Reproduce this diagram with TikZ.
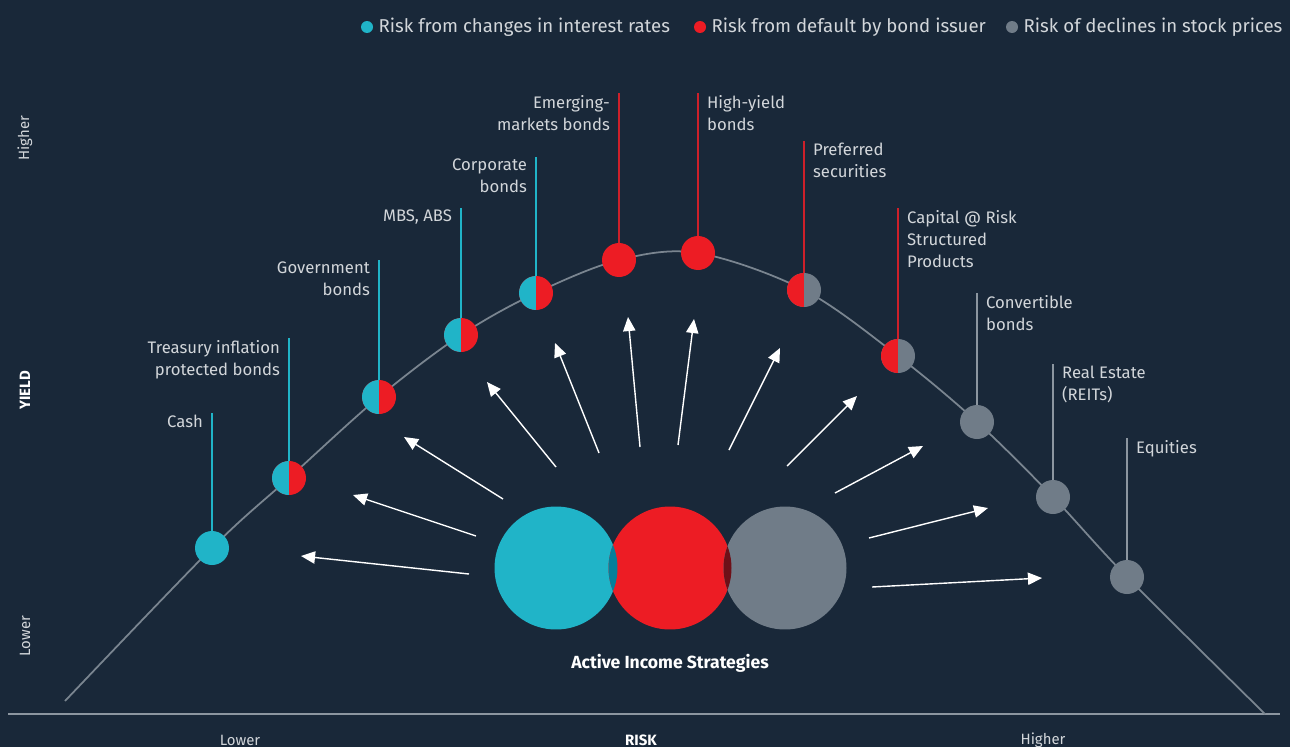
\documentclass[tikz,border=0pt]{standalone}
\usepackage{fontspec}
\setmainfont{Fira Sans}
\usetikzlibrary{arrows.meta, positioning}
\definecolor{navy}{RGB}{25,40,57}
\definecolor{rcyan}{RGB}{32,180,200}
\definecolor{rred}{RGB}{237,28,36}
\definecolor{rgray}{RGB}{112,124,136}
\definecolor{curvegray}{RGB}{122,133,144}
\definecolor{txt}{RGB}{210,214,218}
\definecolor{tealdk}{RGB}{5,127,154}
\definecolor{reddk}{RGB}{110,16,24}
\definecolor{redline}{RGB}{205,32,42}
\definecolor{grayline}{RGB}{140,150,160}
\tikzset{
  dot/.style={circle, fill=#1, minimum size=0.68cm, inner sep=0pt},
  hdot/.style 2 args={circle, fill=#2, minimum size=0.68cm, inner sep=0pt,
    path picture={\fill[#1] (path picture bounding box.north west) rectangle (path picture bounding box.south);}},
  lead/.style={draw=#1, line width=1pt},
  lbl/.style={text=txt, font=\fontsize{9.5}{12.5}\selectfont, inner sep=0pt},
  lblr/.style={lbl, align=right, anchor=north east, xshift=-5pt, yshift=-1pt},
  lbll/.style={lbl, align=left, anchor=north west, xshift=5pt, yshift=-1pt},
  big/.style={circle, fill=#1, minimum size=2.46cm, inner sep=0pt},
  ray/.style={-{Triangle[length=8pt,width=7pt]}, white, line width=0.8pt},
  keydot/.style={circle, fill=#1, minimum size=0.24cm, inner sep=0pt},
  legtext/.style={text=txt, font=\fontsize{10.6}{13}\selectfont, inner sep=0pt, right=0.1cm of #1},
  axlbl/.style={text=txt, font=\fontsize{8.5}{10}\selectfont, inner sep=0pt},
  axbold/.style={text=white, font=\fontsize{8.5}{10}\selectfont\bfseries, inner sep=0pt},
}
\begin{document}
\begin{tikzpicture}[x=0.02cm, y=-0.02cm]
\fill[navy] (0,0) rectangle (1290,747);
\useasboundingbox (0,0) rectangle (1290,747);
% legend
\node[keydot=rcyan] (k1) at (367,27) {};
\node[legtext=k1] (g1) {Risk from changes in interest rates};
\node[keydot=rred] (k2) at (700,27) {};
\node[legtext=k2] (g2) {Risk from default by bond issuer};
\node[keydot=rgray] (k3) at (1012,27) {};
\node[legtext=k3] (g3) {Risk of declines in stock prices};
% axes
\coordinate (ax0) at (8,714);
\coordinate (ax1) at (1280,714);
\draw[grayline, line width=1pt] (ax0) -- (ax1);
\node[axlbl, rotate=90] (yhi) at (25,138) {Higher};
\node[axbold, rotate=90] (ylab) at (25,390) {YIELD};
\node[axlbl, rotate=90] (ylo) at (25,636) {Lower};
\node[axlbl] (xlo) at (240,740) {Lower};
\node[axbold] (xlab) at (641,740) {RISK};
\node[axlbl] (xhi) at (1043,740) {Higher};
% curve
\foreach \n/\px/\py in {0/65/701, 1/212/548, 2/289/478, 3/379/397, 4/461/335, 5/536/293, 6/619/260,
  7/698/253, 8/804/290, 9/898/356, 10/977/422, 11/1053/497, 12/1127/577, 13/1265/714}
  \coordinate (p\n) at (\px,\py);
\draw[curvegray, line width=1pt] plot[smooth, tension=0.55] coordinates {(p0) (p1) (p2) (p3) (p4) (p5) (p6) (p7) (p8) (p9) (p10) (p11) (p12) (p13)};
% leaders
\foreach \n/\top/\c in {1/413/rcyan, 2/338/rcyan, 3/260/rcyan, 4/208/rcyan, 5/157/rcyan, 6/93/redline,
  7/93/redline, 8/141/redline, 9/208/redline, 10/293/grayline, 11/364/grayline, 12/438/grayline}{
  \coordinate (t\n) at (p\n |- 0,\top);
  \draw[lead=\c] (p\n) -- (t\n);
}
% markers
\node[dot=rcyan] (m1) at (p1) {};
\node[hdot={rcyan}{rred}] (m2) at (p2) {};
\node[hdot={rcyan}{rred}] (m3) at (p3) {};
\node[hdot={rcyan}{rred}] (m4) at (p4) {};
\node[hdot={rcyan}{rred}] (m5) at (p5) {};
\node[dot=rred] (m6) at (p6) {};
\node[dot=rred] (m7) at (p7) {};
\node[hdot={rred}{rgray}] (m8) at (p8) {};
\node[hdot={rred}{rgray}] (m9) at (p9) {};
\node[dot=rgray] (m10) at (p10) {};
\node[dot=rgray] (m11) at (p11) {};
\node[dot=rgray] (m12) at (p12) {};
% labels
\node[lblr] (n1) at (t1) {Cash};
\node[lblr] (n2) at (t2) {Treasury inflation\\protected bonds};
\node[lblr] (n3) at (t3) {Government\\bonds};
\node[lblr] (n4) at (t4) {MBS, ABS};
\node[lblr] (n5) at (t5) {Corporate\\bonds};
\node[lblr] (n6) at (t6) {Emerging-\\markets bonds};
\node[lbll] (n7) at (t7) {High-yield\\bonds};
\node[lbll] (n8) at (t8) {Preferred\\securities};
\node[lbll] (n9) at (t9) {Capital @ Risk\\Structured\\Products};
\node[lbll] (n10) at (t10) {Convertible\\bonds};
\node[lbll] (n11) at (t11) {Real Estate\\(REITs)};
\node[lbll] (n12) at (t12) {Equities};
% strategies
\node[big=rcyan] (irc) at (556,568) {};
\node[big=rred] (drc) at (670,568) {};
\node[big=rgray] (src) at (785,568) {};
\begin{scope}
  \clip (irc.center) circle[radius=1.23cm];
  \fill[tealdk] (drc.center) circle[radius=1.23cm];
\end{scope}
\begin{scope}
  \clip (drc.center) circle[radius=1.23cm];
  \fill[reddk] (src.center) circle[radius=1.23cm];
\end{scope}
\node[text=white, font=\fontsize{10}{12}\selectfont\bfseries] (ais) at (670,663) {Active Income Strategies};
% arrows
\foreach \n/\ax/\ay/\bx/\by in {1/469/574/301/556, 2/476/536/353/495, 3/503/499/404/437, 4/556/467/487/382,
  5/599/453/555/343, 6/640/447/628/317, 7/678/445/694/319, 8/729/450/780/348, 9/787/466/857/396,
  10/835/493/923/446, 11/869/538/988/508, 12/872/587/1042/578}{
  \coordinate (s\n) at (\ax,\ay);
  \coordinate (e\n) at (\bx,\by);
  \draw[ray] (s\n) -- (e\n);
}
\end{tikzpicture}
\end{document}
